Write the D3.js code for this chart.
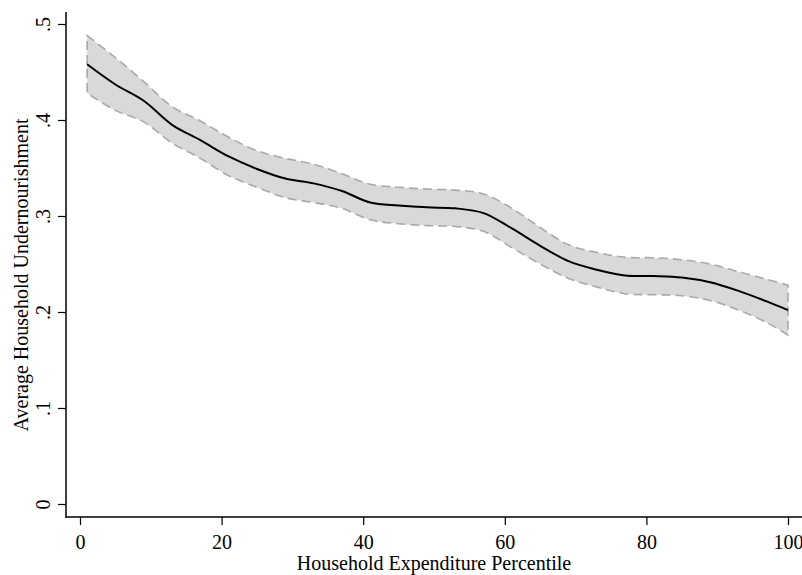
<!DOCTYPE html>
<html>
<head>
<meta charset="utf-8">
<script src="https://cdn.jsdelivr.net/npm/d3@7"></script>
<style>
  body { margin: 0; background: #fff; }
  svg { display: block; font-family: "Liberation Serif", "Times New Roman", serif; }
</style>
</head>
<body>
<svg width="802" height="575"></svg>
<script>
// percentile grid and the smoothed estimate with its 95% band
var pctl  = [1, 5, 9, 13, 17, 21, 25, 29, 33, 37, 41, 45, 49, 53, 57, 61, 65, 69, 73, 77, 81, 85, 89, 93, 97, 100];
var mean  = [0.458, 0.437, 0.42, 0.395, 0.379, 0.362, 0.349, 0.339, 0.334, 0.326, 0.314, 0.311, 0.309, 0.308, 0.303, 0.287, 0.269, 0.253, 0.244, 0.238, 0.2375, 0.236, 0.231, 0.222, 0.211, 0.202];
var upper = [0.488, 0.465, 0.44, 0.414, 0.399, 0.382, 0.368, 0.36, 0.354, 0.344, 0.333, 0.33, 0.328, 0.327, 0.323, 0.308, 0.288, 0.27, 0.262, 0.257, 0.2565, 0.2545, 0.25, 0.242, 0.234, 0.228];
var lower = [0.428, 0.41, 0.398, 0.376, 0.36, 0.342, 0.33, 0.319, 0.314, 0.308, 0.296, 0.292, 0.29, 0.289, 0.284, 0.267, 0.25, 0.235, 0.226, 0.219, 0.218, 0.217, 0.212, 0.202, 0.189, 0.176];

var xTicks = [0, 20, 40, 60, 80, 100];
var yTicks = [0, 0.1, 0.2, 0.3, 0.4, 0.5];

var svg = d3.select("svg");

var x = d3.scaleLinear().domain([0, 100]).range([80, 788]);
var y = d3.scaleLinear().domain([0, 0.5]).range([504, 24]);

var rows = pctl.map((p, i) => ({p: p, m: mean[i], hi: upper[i], lo: lower[i]}));
var curve = d3.curveCatmullRom.alpha(0.5);

// band
var area = d3.area()
    .x(d => x(d.p))
    .y0(d => y(d.lo))
    .y1(d => y(d.hi))
    .curve(curve);

svg.append("path")
    .datum(rows)
    .attr("d", area)
    .attr("fill", "#d9d9d9")
    .attr("stroke", "none");

// dashed outline of the band (closed, incl. vertical ends)
var hiLine = d3.line().x(d => x(d.p)).y(d => y(d.hi)).curve(curve);
var loLine = d3.line().x(d => x(d.p)).y(d => y(d.lo)).curve(curve);
var outline = hiLine(rows) + "L" + loLine(rows.slice().reverse()).slice(1) + "Z";
svg.append("path")
    .attr("d", outline)
    .attr("fill", "none")
    .attr("stroke", "#a9a9a9")
    .attr("stroke-width", 1.6)
    .attr("stroke-dasharray", "9,5");

// estimate line
svg.append("path")
    .datum(rows)
    .attr("d", d3.line().x(d => x(d.p)).y(d => y(d.m)).curve(curve))
    .attr("fill", "none")
    .attr("stroke", "#000")
    .attr("stroke-width", 2);

// axes
var xAxis = svg.append("g")
    .attr("transform", "translate(0,517)")
    .call(d3.axisBottom(x).tickValues(xTicks).tickSize(8).tickSizeOuter(0));
xAxis.select(".domain").remove();
xAxis.append("line").attr("x1", 66).attr("x2", 802).attr("stroke", "#000").attr("stroke-width", 1.5);
xAxis.selectAll(".tick line").attr("stroke", "#000").attr("stroke-width", 1.2);
xAxis.selectAll(".tick text")
    .attr("y", 32).attr("dy", 0)
    .attr("fill", "#000")
    .style("font-size", "20px").style("font-family", "'Liberation Serif', 'Times New Roman', serif");

var yfmt = d => d === 0 ? "0" : d3.format(".1f")(d).replace(/^0/, "");
var yAxis = svg.append("g")
    .attr("transform", "translate(66,0)")
    .call(d3.axisLeft(y).tickValues(yTicks).tickFormat(yfmt).tickSize(8).tickSizeOuter(0));
yAxis.select(".domain").remove();
yAxis.append("line").attr("y1", 12).attr("y2", 518).attr("stroke", "#000").attr("stroke-width", 1.5);
yAxis.selectAll(".tick line").attr("stroke", "#000").attr("stroke-width", 1.2);
yAxis.selectAll(".tick text")
    .attr("transform", "rotate(-90)")
    .attr("x", 0).attr("y", -16).attr("dy", 0)
    .attr("text-anchor", "middle")
    .attr("fill", "#000")
    .style("font-size", "20px").style("font-family", "'Liberation Serif', 'Times New Roman', serif");

// axis titles
svg.append("text")
    .attr("x", 434).attr("y", 570)
    .attr("text-anchor", "middle")
    .style("font-size", "20px")
    .text("Household Expenditure Percentile");

svg.append("text")
    .attr("transform", "translate(28,275) rotate(-90)")
    .attr("text-anchor", "middle")
    .style("font-size", "20px")
    .text("Average Household Undernourishment");
</script>
</body>
</html>
